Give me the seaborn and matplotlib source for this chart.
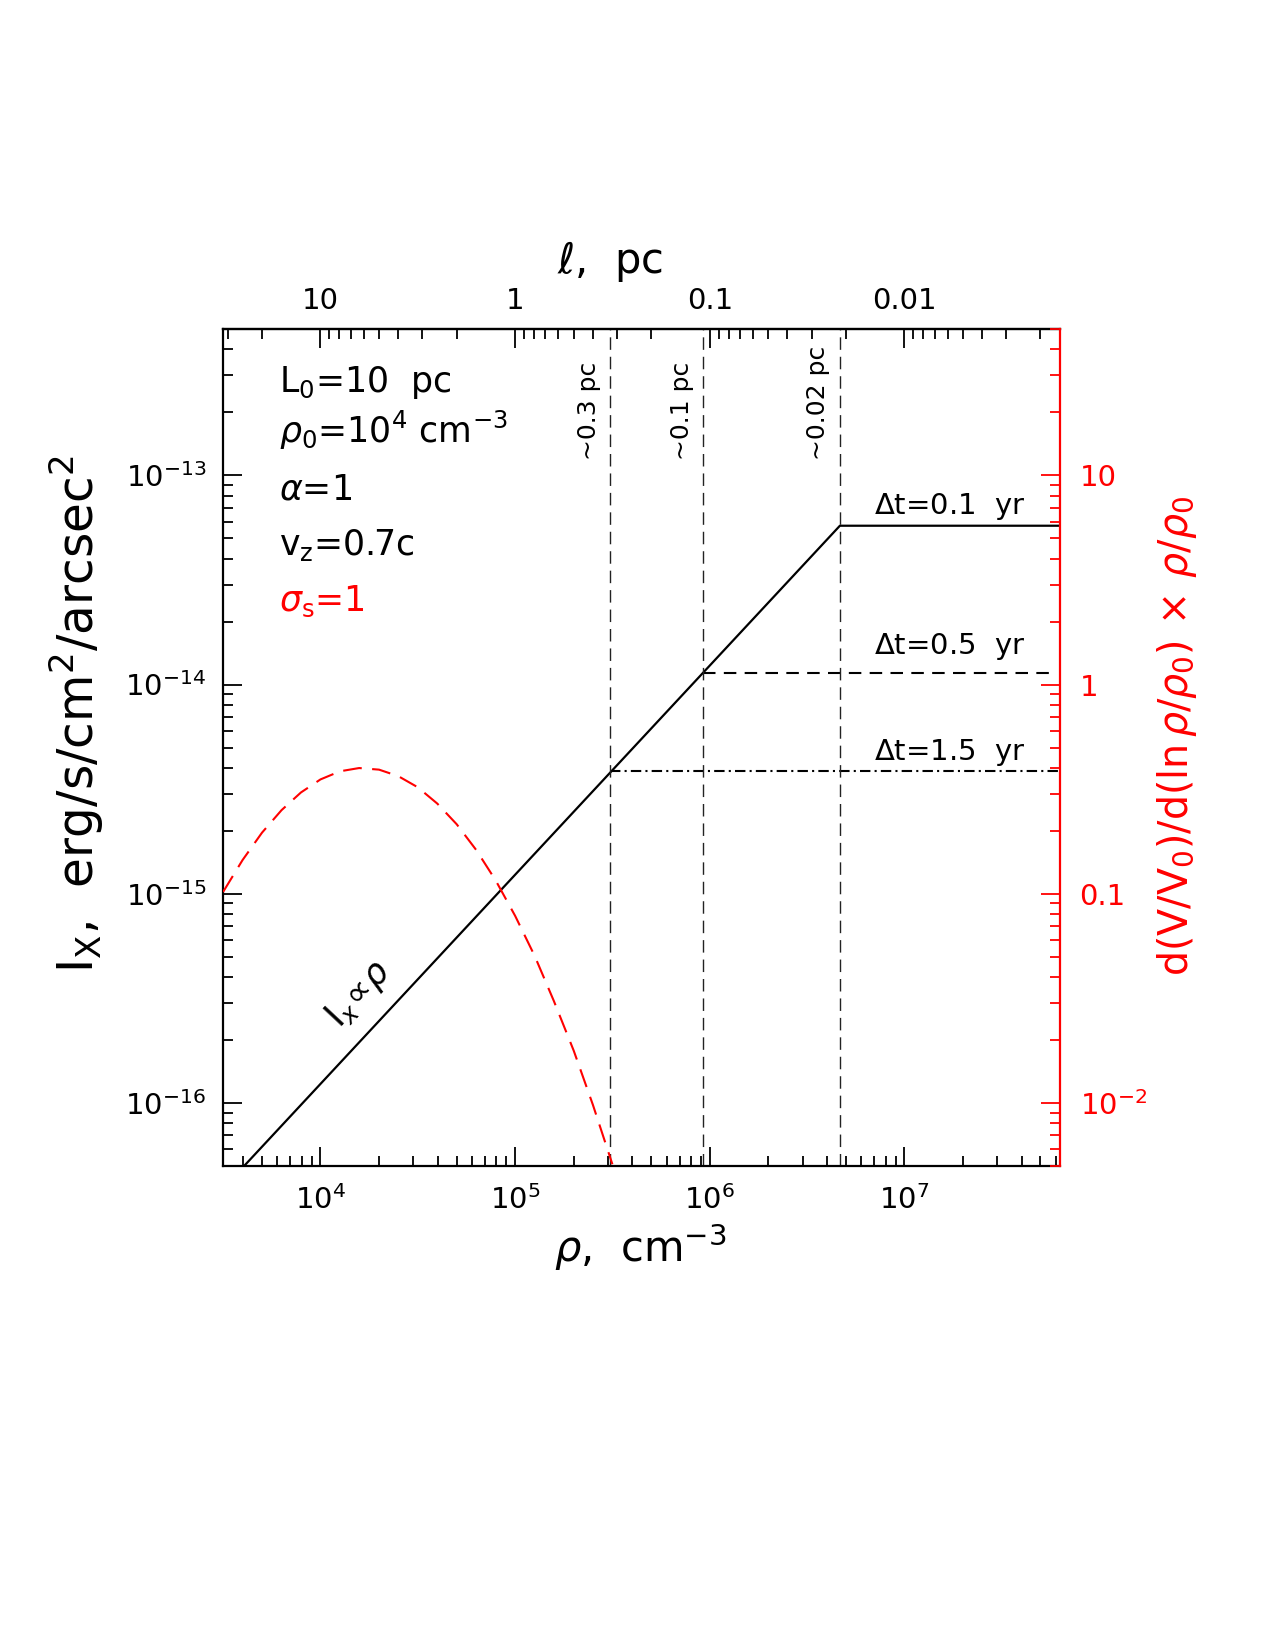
import numpy as np
import matplotlib
matplotlib.use("Agg")
import matplotlib.pyplot as plt
import seaborn as sns

# density grid (cm^-3) and surface brightness for the three exposure times
rho_line = [4.05e3, 4.66e6, 6.3e7]
ix_01yr = [5.0e-17, 5.74e-14, 5.74e-14]
rho_05yr = [9.27e5, 6.0e7]
ix_05yr = [1.14e-14, 1.14e-14]
rho_15yr = [3.09e5, 6.3e7]
ix_15yr = [3.85e-15, 3.85e-15]

# positions of the vertical scale markers
rho_marks = [3.09e5, 9.27e5, 4.66e6]
mark_labels = ["~0.3 pc", "~0.1 pc", "~0.02 pc"]

# red curve: d(V/V0)/d(ln rho/rho0) * rho/rho0
rho_pdf = [3.16e3, 3.98e3, 5.01e3, 6.31e3, 7.94e3, 1.0e4, 1.26e4, 1.58e4, 2.0e4,
           2.51e4, 3.16e4, 3.98e4, 5.01e4, 6.31e4, 7.94e4, 1.0e5, 1.26e5,
           1.58e5, 2.0e5, 2.51e5, 3.16e5]
pdf = [0.102, 0.145, 0.196, 0.251, 0.305, 0.352, 0.385, 0.399, 0.392, 0.365,
       0.323, 0.270, 0.215, 0.162, 0.116, 0.0785, 0.0505, 0.0308, 0.0178,
       0.0098, 0.0051]

dt_labels = [r"$\Delta$t=0.1  yr", r"$\Delta$t=0.5  yr", r"$\Delta$t=1.5  yr"]
dt_label_y = [0.779, 0.612, 0.485]

params = [r"L$_0$=10  pc", r"$\rho_0$=10$^4$ cm$^{-3}$", r"$\alpha$=1",
          r"v$_{\rm z}$=0.7c", r"$\sigma_{\rm s}$=1"]
param_colors = ["black", "black", "black", "black", "red"]
param_y = [0.925, 0.864, 0.796, 0.730, 0.663]

sns.set_theme(style="ticks")
plt.rcParams["font.family"] = ["DejaVu Sans"]
plt.rcParams["mathtext.fontset"] = "dejavusans"
plt.rcParams["text.color"] = "black"
plt.rcParams["axes.labelcolor"] = "black"
plt.rcParams["xtick.color"] = "black"
plt.rcParams["ytick.color"] = "black"

fig = plt.figure(figsize=(12.75, 16.5), dpi=100)
ax = fig.add_axes([0.175, 0.2933, 0.6565, 0.5073])
ax.set_xscale("log")
ax.set_yscale("log")
ax.set_xlim(10**3.5, 10**7.8)
ax.set_ylim(5e-17, 5e-13)

# black curves
sns.lineplot(x=rho_line, y=ix_01yr, ax=ax, color="black", lw=1.6, sort=False)
sns.lineplot(x=rho_05yr, y=ix_05yr, ax=ax, color="black", lw=1.5, sort=False,
             linestyle=(0, (6.0, 4.0)))
sns.lineplot(x=rho_15yr, y=ix_15yr, ax=ax, color="black", lw=1.5, sort=False,
             linestyle=(0, (5.0, 2.0, 1.0, 2.0)))

for r, lab in zip(rho_marks, mark_labels):
    ax.axvline(r, color="#222222", lw=1.0, linestyle=(0, (9, 5)))
    ax.annotate(lab, xy=(r, 0.843), xycoords=("data", "axes fraction"),
                xytext=(-7, 0), textcoords="offset points", rotation=90,
                ha="right", va="bottom", fontsize=18)

for lab, yy in zip(dt_labels, dt_label_y):
    ax.text(0.777, yy, lab, transform=ax.transAxes, fontsize=21,
            ha="left", va="baseline")

for lab, c, yy in zip(params, param_colors, param_y):
    ax.text(0.067, yy, lab, transform=ax.transAxes, fontsize=25, color=c,
            ha="left", va="baseline")

ax.text(1.57e4, 3.3e-16, r"I$_{x}\!\propto\!\rho$", rotation=47,
        fontsize=25, ha="center", va="center")

# left / bottom axes styling
for s in ["left", "bottom", "top"]:
    ax.spines[s].set_linewidth(1.6)
    ax.spines[s].set_color("black")
ax.spines["right"].set_visible(False)
ax.tick_params(which="both", direction="in", top=False, right=False,
               width=1.3, colors="black", labelsize=21)
ax.tick_params(which="major", length=14)
ax.tick_params(which="minor", length=7)
ax.tick_params(axis="x", pad=14)
ax.tick_params(axis="y", pad=12)
ax.set_xlabel(r"$\rho$,  cm$^{-3}$", fontsize=30)
ax.xaxis.set_label_coords(0.498, -0.066)
ax.set_ylabel(r"I$_{\rm X}$,  erg/s/cm$^2$/arcsec$^2$", fontsize=35)
ax.yaxis.set_label_coords(-0.14, 0.54)

# top axis: scale length
top = ax.secondary_xaxis("top", functions=(lambda x: 1e5 / x, lambda l: 1e5 / l))
top.set_xticks([10, 1, 0.1, 0.01])
top.set_xticklabels(["10", "1", "0.1", "0.01"])
top.tick_params(which="both", direction="in", width=1.3, colors="black",
                labelsize=21, pad=10)
top.tick_params(which="major", length=14)
top.tick_params(which="minor", length=7)
top.spines["top"].set_linewidth(1.6)
ax.text(0.462, 1.081, r"$\ell$,  pc", transform=ax.transAxes, fontsize=30,
        ha="center", va="center")

# right axis: density PDF
axr = ax.twinx()
axr.set_yscale("log")
axr.set_ylim(5e-3, 50)
sns.lineplot(x=rho_pdf, y=pdf, ax=axr, color="red", lw=1.5, sort=False,
             linestyle=(0, (9.0, 5.0)))
axr.set_xlim(10**3.5, 10**7.8)
for s in ["left", "top", "bottom"]:
    axr.spines[s].set_visible(False)
axr.spines["right"].set_color("red")
axr.spines["right"].set_linewidth(1.6)
axr.set_yticks([0.01, 0.1, 1, 10])
axr.set_yticklabels([r"10$^{-2}$", "0.1", "1", "10"])
axr.tick_params(which="both", direction="in", colors="red", width=1.3,
                labelsize=21, pad=14)
axr.tick_params(which="major", length=14)
axr.tick_params(which="minor", length=7)
axr.set_ylabel(r"d(V/V$_0$)/d(ln$\,\rho/\rho_0$)$\,\times\,\rho/\rho_0$",
               fontsize=28.5, color="red", rotation=90)
axr.yaxis.set_label_coords(1.113, 0.514)

fig.savefig("out.png", dpi=100)
